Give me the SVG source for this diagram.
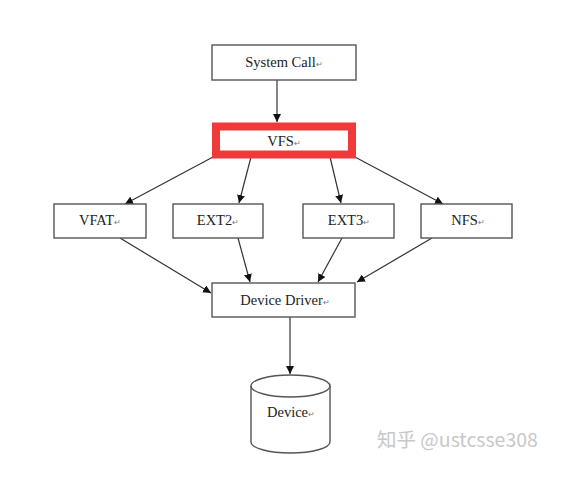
<svg xmlns="http://www.w3.org/2000/svg" width="567" height="488" viewBox="0 0 567 488">
<style>
.box{fill:#fff;stroke:#555;stroke-width:1.4}
.t{font-family:"Liberation Serif",serif;font-size:14.5px;fill:#222;text-anchor:middle}
.r{font-size:8px;fill:#777}
.c{fill:none;stroke:#333;stroke-width:1.2;marker-end:url(#ah)}
.wm{font-family:"Noto Sans CJK SC","Liberation Sans",sans-serif;font-size:19.5px;fill:#c8c8c8}
</style>
<defs>
<marker id="ah" viewBox="0 0 10 10" refX="10" refY="5" markerWidth="8" markerHeight="8" markerUnits="userSpaceOnUse" orient="auto">
<path d="M0,0 L10,5 L0,10 z" fill="#111"/>
</marker>
</defs>
<rect width="567" height="488" fill="#fff"/>
<g id="connectors">
<line class="c" x1="277" y1="80" x2="277" y2="122"/>
<line class="c" x1="213" y1="157" x2="125" y2="204"/>
<line class="c" x1="251" y1="157" x2="239" y2="203"/>
<line class="c" x1="330" y1="157" x2="341" y2="203"/>
<line class="c" x1="355" y1="157" x2="443" y2="204"/>
<line class="c" x1="120" y1="238" x2="211" y2="293"/>
<line class="c" x1="238" y1="238" x2="250" y2="282"/>
<line class="c" x1="342" y1="238" x2="318" y2="282"/>
<line class="c" x1="432" y1="238" x2="357" y2="282"/>
<line class="c" x1="290" y1="317" x2="290" y2="374"/>
</g>
<g id="syscall">
<rect class="box" x="212" y="45" width="144" height="35"/>
<text class="t" x="284" y="67">System Call<tspan class="r">↵</tspan></text>
</g>
<g id="vfs">
<rect x="216" y="126.5" width="136" height="28" fill="#fff" stroke="#f03a3a" stroke-width="8"/>
<text class="t" x="284" y="146">VFS<tspan class="r">↵</tspan></text>
</g>
<g id="vfat">
<rect class="box" x="54" y="204" width="92" height="34"/>
<text class="t" x="100" y="225">VFAT<tspan class="r">↵</tspan></text>
</g>
<g id="ext2">
<rect class="box" x="173" y="204" width="90" height="34"/>
<text class="t" x="218" y="225">EXT2<tspan class="r">↵</tspan></text>
</g>
<g id="ext3">
<rect class="box" x="303" y="204" width="91" height="34"/>
<text class="t" x="349" y="225">EXT3<tspan class="r">↵</tspan></text>
</g>
<g id="nfs">
<rect class="box" x="421" y="204" width="91" height="34"/>
<text class="t" x="468" y="225">NFS<tspan class="r">↵</tspan></text>
</g>
<g id="driver">
<rect class="box" x="212" y="283" width="143" height="34"/>
<text class="t" x="285" y="305">Device Driver<tspan class="r">↵</tspan></text>
</g>
<g id="device">
<path class="box" d="M251,386 L251,442 A39.5,11 0 0 0 330,442 L330,386 A39.5,11 0 0 0 251,386 Z"/>
<path d="M251,386 A39.5,11 0 0 0 330,386" fill="none" stroke="#555" stroke-width="1.4"/>
<text class="t" x="291" y="417">Device<tspan class="r">↵</tspan></text>
</g>
<text class="wm" x="377" y="447">知乎 @ustcsse308</text>
</svg>
